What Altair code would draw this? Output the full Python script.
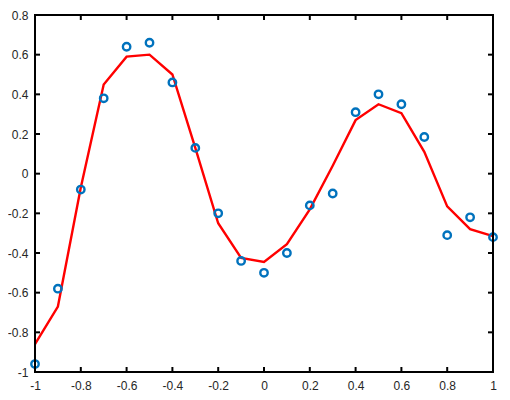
import altair as alt
import pandas as pd

# data
x_vals = [-1.0, -0.9, -0.8, -0.7, -0.6, -0.5, -0.4, -0.3, -0.2, -0.1, 0.0,
          0.1, 0.2, 0.3, 0.4, 0.5, 0.6, 0.7, 0.8, 0.9, 1.0]
points_y = [-0.96, -0.58, -0.08, 0.38, 0.64, 0.66, 0.46, 0.13, -0.20, -0.44, -0.50,
            -0.40, -0.16, -0.10, 0.31, 0.40, 0.35, 0.185, -0.31, -0.22, -0.32]
line_y = [-0.86, -0.67, -0.07, 0.45, 0.59, 0.60, 0.50, 0.13, -0.25, -0.425, -0.445,
          -0.355, -0.18, 0.04, 0.27, 0.35, 0.305, 0.11, -0.165, -0.28, -0.315]
x_ticks = [-1, -0.8, -0.6, -0.4, -0.2, 0, 0.2, 0.4, 0.6, 0.8, 1]
y_ticks = [-1, -0.8, -0.6, -0.4, -0.2, 0, 0.2, 0.4, 0.6, 0.8]

df = pd.DataFrame({"x": x_vals, "p": points_y, "l": line_y})
xt = pd.DataFrame({"t": x_ticks})
yt = pd.DataFrame({"t": y_ticks})
frame_df = pd.DataFrame({"k": [0]})

W, H = 458, 357
xs = alt.Scale(domain=[-1, 1], nice=False, zero=False)
ys = alt.Scale(domain=[-1, 0.8], nice=False, zero=False)

label_style = dict(labelFont="Liberation Sans", labelFontSize=12, labelColor="#262626",
                   ticks=False, domain=False, grid=False, title=None, labelOverlap=False,
                   labelFlush=False, labelBound=False,
                   labelExpr="toString(datum.value)")

xaxis = alt.Axis(values=x_ticks, labelPadding=8, **label_style)
yaxis = alt.Axis(values=y_ticks, labelPadding=7, **label_style)

line = alt.Chart(df).mark_line(color="#FF0000", strokeWidth=2.4).encode(
    x=alt.X("x:Q", scale=xs, axis=xaxis),
    y=alt.Y("l:Q", scale=ys, axis=yaxis),
)
pts = alt.Chart(df).mark_point(shape="circle", filled=False, color="#0072BD",
                               strokeWidth=2.4, size=55, opacity=1).encode(
    x=alt.X("x:Q", scale=xs, axis=xaxis),
    y=alt.Y("p:Q", scale=ys, axis=yaxis),
)

frame = alt.Chart(frame_df).mark_rect(fill=None, stroke="black", strokeWidth=2).encode(
    x=alt.value(0), x2=alt.value(W), y=alt.value(0), y2=alt.value(H))

tb = alt.Chart(xt).mark_rule(color="black", strokeWidth=2).encode(
    x=alt.X("t:Q", scale=xs, axis=xaxis), y=alt.value(H), y2=alt.value(H - 5))
tt = alt.Chart(xt).mark_rule(color="black", strokeWidth=2).encode(
    x=alt.X("t:Q", scale=xs, axis=xaxis), y=alt.value(0), y2=alt.value(5))
tl = alt.Chart(yt).mark_rule(color="black", strokeWidth=2).encode(
    y=alt.Y("t:Q", scale=ys, axis=yaxis), x=alt.value(0), x2=alt.value(5))
tr = alt.Chart(yt).mark_rule(color="black", strokeWidth=2).encode(
    y=alt.Y("t:Q", scale=ys, axis=yaxis), x=alt.value(W), x2=alt.value(W - 5))

chart = alt.layer(line, pts, tb, tt, tl, tr, frame).properties(
    width=W, height=H,
    autosize=alt.AutoSizeParams(type="none"),
    padding={"left": 27, "top": 7, "right": 9, "bottom": 20},
).configure_view(stroke=None, fill="white").configure(background="white")

chart.save("out.html", embed_options={"renderer": "svg", "actions": False})
